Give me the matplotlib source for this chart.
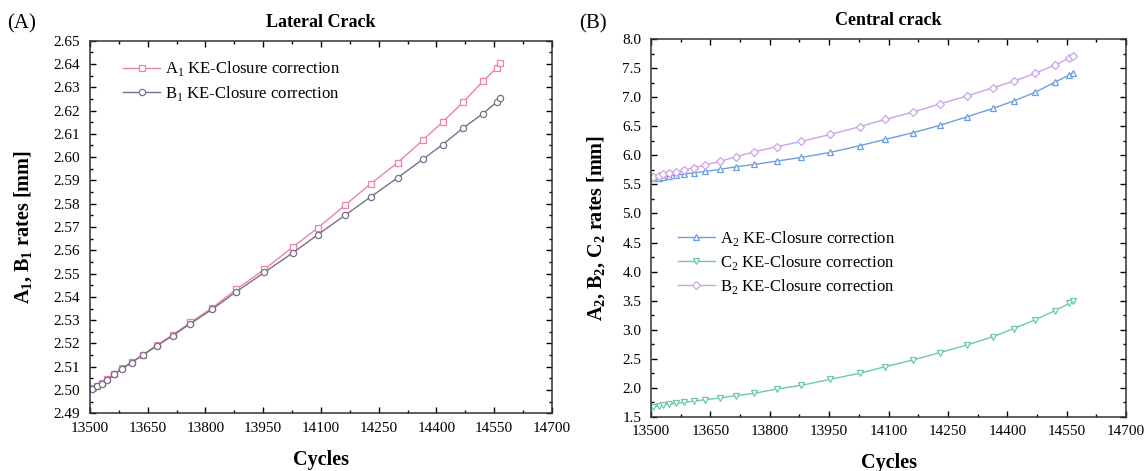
import numpy as np
import matplotlib
matplotlib.use('Agg')
import matplotlib.pyplot as plt
from matplotlib.ticker import MultipleLocator, AutoMinorLocator, FormatStrFormatter

plt.rcParams['font.family'] = 'Liberation Serif'
plt.rcParams['mathtext.fontset'] = 'custom'
plt.rcParams['mathtext.rm'] = 'Liberation Serif'
plt.rcParams['mathtext.bf'] = 'Liberation Serif:bold'

# data
cycles = [13505, 13519, 13531, 13545, 13562, 13584, 13608, 13637, 13674, 13715,
          13761, 13817, 13880, 13953, 14027, 14092, 14162, 14229, 14299, 14364,
          14416, 14470, 14521, 14557, 14566]

a1 = [2.5007, 2.5019, 2.5029, 2.5046, 2.5069, 2.5093, 2.5120, 2.5151, 2.5193, 2.5237,
      2.5290, 2.5352, 2.5432, 2.5518, 2.5614, 2.5696, 2.5793, 2.5885, 2.5976, 2.6072,
      2.6151, 2.6237, 2.6326, 2.6384, 2.6403]
b1 = [2.5005, 2.5017, 2.5027, 2.5044, 2.5067, 2.5091, 2.5118, 2.5149, 2.5190, 2.5233,
      2.5285, 2.5346, 2.5422, 2.5505, 2.5589, 2.5667, 2.5750, 2.5829, 2.5911, 2.5990,
      2.6054, 2.6126, 2.6187, 2.6237, 2.6252]

a2 = [5.603, 5.615, 5.632, 5.644, 5.661, 5.678, 5.701, 5.724, 5.759, 5.805,
      5.845, 5.902, 5.966, 6.052, 6.167, 6.276, 6.391, 6.517, 6.667, 6.810,
      6.937, 7.086, 7.264, 7.385, 7.425]
c2 = [1.672, 1.684, 1.701, 1.718, 1.730, 1.747, 1.770, 1.793, 1.822, 1.862,
      1.902, 1.977, 2.040, 2.144, 2.247, 2.362, 2.477, 2.603, 2.736, 2.879,
      3.017, 3.167, 3.328, 3.454, 3.494]
b2 = [5.632, 5.649, 5.672, 5.690, 5.718, 5.747, 5.787, 5.839, 5.897, 5.977,
      6.063, 6.149, 6.241, 6.362, 6.494, 6.621, 6.747, 6.885, 7.023, 7.167,
      7.276, 7.414, 7.557, 7.678, 7.713]

xticks = [13500, 13650, 13800, 13950, 14100, 14250, 14400, 14550, 14700]


def style_axes(ax):
    ax.set_xlim(13500, 14700)
    ax.set_xticks(xticks)
    ax.xaxis.set_minor_locator(AutoMinorLocator(2))
    ax.yaxis.set_minor_locator(AutoMinorLocator(2))
    ax.tick_params(which='both', direction='in', top=True, right=True, labelsize=11, width=1)
    ax.tick_params(which='major', length=4.5)
    ax.tick_params(which='minor', length=2.5)
    ax.tick_params(axis='y', pad=7)
    ax.tick_params(axis='x', pad=6)
    for sp in ax.spines.values():
        sp.set_linewidth(1.1)
        sp.set_color('#333333')


fig = plt.figure(figsize=(11.46, 4.71), dpi=100)

# (A) lateral crack
ax1 = fig.add_axes([0.0785, 0.1225, 0.4031, 0.7911])
ax1.plot(cycles, a1, '-s', color='#ee82aa', lw=1, ms=4.5, mfc='white', mew=0.9,
         label='A$_1$ KE-Closure correction')
ax1.plot(cycles, b1, '-o', color='#77708c', lw=1, ms=4.5, mfc='white', mew=0.9,
         label='B$_1$ KE-Closure correction')
style_axes(ax1)
ax1.set_ylim(2.49, 2.65)
ax1.yaxis.set_major_locator(MultipleLocator(0.01))
ax1.yaxis.set_major_formatter(FormatStrFormatter('%.2f'))
ax1.set_title('Lateral Crack', fontsize=13, fontweight='bold', pad=10)
ax1.set_xlabel('Cycles', fontsize=14.5, fontweight='bold')
ax1.xaxis.set_label_coords(0.5, -0.099)
ax1.set_ylabel('A$_\\mathbf{1}$, B$_\\mathbf{1}$ rates [mm]', fontsize=14.5, fontweight='bold')
ax1.yaxis.set_label_coords(-0.121, 0.5)
ax1.legend(loc='upper left', bbox_to_anchor=(0.04, 0.99), frameon=False, fontsize=12,
           handlelength=2.2, handletextpad=0.3, labelspacing=0.35)
fig.text(0.006, 0.94, '(A)', fontsize=15)

# (B) central crack
ax2 = fig.add_axes([0.5681, 0.1153, 0.4145, 0.8013])
ax2.plot(cycles, a2, '-^', color='#6d9fe0', lw=1, ms=5, mfc='white', mew=0.9,
         label='A$_2$ KE-Closure correction')
ax2.plot(cycles, c2, '-v', color='#6cc9a8', lw=1, ms=5, mfc='white', mew=0.9,
         label='C$_2$ KE-Closure correction')
ax2.plot(cycles, b2, '-D', color='#caa5e8', lw=1, ms=4.5, mfc='white', mew=0.9,
         label='B$_2$ KE-Closure correction')
style_axes(ax2)
ax2.set_ylim(1.5, 8.0)
ax2.yaxis.set_major_locator(MultipleLocator(0.5))
ax2.yaxis.set_major_formatter(FormatStrFormatter('%.1f'))
ax2.set_title('Central crack', fontsize=13, fontweight='bold', pad=10)
ax2.set_xlabel('Cycles', fontsize=14.5, fontweight='bold')
ax2.xaxis.set_label_coords(0.5, -0.096)
ax2.set_ylabel('A$_\\mathbf{2}$, B$_\\mathbf{2}$, C$_\\mathbf{2}$ rates [mm]', fontsize=14.5,
               fontweight='bold')
ax2.yaxis.set_label_coords(-0.093, 0.5)
ax2.legend(loc='upper left', bbox_to_anchor=(0.025, 0.537), frameon=False, fontsize=12,
           handlelength=2.2, handletextpad=0.3, labelspacing=0.3)
fig.text(0.505, 0.94, '(B)', fontsize=15)

fig.savefig('out.png', dpi=100)
